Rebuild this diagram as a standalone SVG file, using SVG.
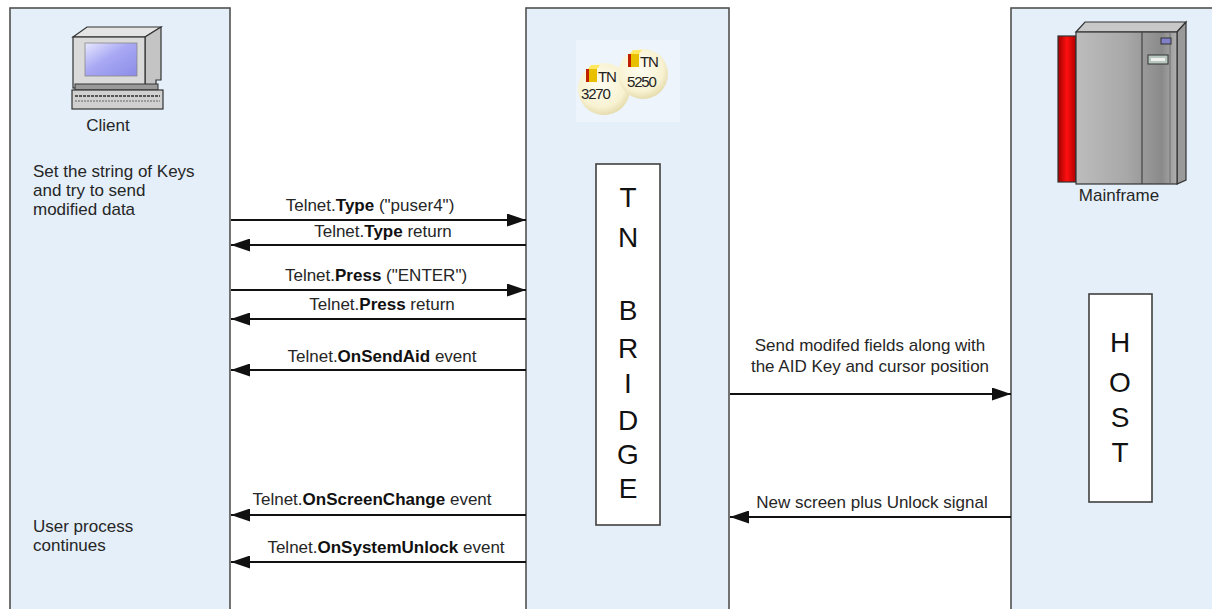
<svg xmlns="http://www.w3.org/2000/svg" width="1212" height="609" viewBox="0 0 1212 609">
  <defs>
    <style>
      .lane { fill: #e4eff9; stroke: #505050; stroke-width: 1.6; }
      .box { fill: #ffffff; stroke: #404040; stroke-width: 1.6; }
      .lbl { font-family: "Liberation Sans", Arial, sans-serif; font-size: 17px; fill: #262626; }
      .mid { text-anchor: middle; }
      .big { font-family: "Liberation Sans", Arial, sans-serif; font-size: 28px; fill: #111; text-anchor: middle; }
      .msg { stroke: #111; stroke-width: 2; fill: none; marker-end: url(#head); }
      .b { font-weight: bold; fill: #111; }
      .tn { font-family: "Liberation Sans", Arial, sans-serif; font-size: 15px; fill: #222; letter-spacing: -1.2px; }
    </style>
    <marker id="head" markerUnits="userSpaceOnUse" markerWidth="19" markerHeight="13" refX="19" refY="6.5" orient="auto">
      <path d="M0,0 L19,6.5 L0,13 z" fill="#111"/>
    </marker>
    <linearGradient id="screen" x1="0" y1="0" x2="1" y2="1">
      <stop offset="0" stop-color="#e8e8ff"/>
      <stop offset="0.45" stop-color="#a8a8f4"/>
      <stop offset="1" stop-color="#8c8ce8"/>
    </linearGradient>
    <linearGradient id="cab" x1="0" y1="0" x2="1" y2="0">
      <stop offset="0" stop-color="#bdbdbd"/>
      <stop offset="0.5" stop-color="#a8a8a8"/>
      <stop offset="0.85" stop-color="#8a8a8a"/>
      <stop offset="1" stop-color="#b0b0b0"/>
    </linearGradient>
    <linearGradient id="redpanel" x1="0" y1="0" x2="1" y2="0">
      <stop offset="0" stop-color="#a00000"/>
      <stop offset="0.5" stop-color="#ff1010"/>
      <stop offset="1" stop-color="#b00000"/>
    </linearGradient>
    <radialGradient id="disc" cx="0.45" cy="0.4" r="0.6">
      <stop offset="0" stop-color="#fffdf0"/>
      <stop offset="0.75" stop-color="#f8f2d2"/>
      <stop offset="1" stop-color="#e6dcae"/>
    </radialGradient>
  </defs>

  <rect width="1212" height="609" fill="#ffffff"/>

  <!-- Client lane -->
  <g id="client">
    <rect class="lane" x="10" y="8" width="220" height="612"/>
    <g id="client-icon">
      <polygon points="73,37 87,27 161,27 145,37" fill="#e4e4e4" stroke="#333" stroke-width="1.2"/>
      <polygon points="145,37 161,27 161,80 156,80 156,88 145,88" fill="#c4c4c4" stroke="#333" stroke-width="1.2"/>
      <rect x="73" y="37" width="72" height="51" fill="#dadada" stroke="#333" stroke-width="1.2"/>
      <rect x="85" y="43" width="52" height="33" fill="url(#screen)" stroke="#888" stroke-width="0.8"/>
      <rect x="75" y="84" width="83" height="6" fill="#9a9a9a" stroke="#333" stroke-width="1"/>
      <rect x="72" y="90" width="91" height="19" fill="#d0d0d0" stroke="#333" stroke-width="1.2"/>
      <line x1="75" y1="96" x2="160" y2="96" stroke="#555" stroke-width="2" stroke-dasharray="3 1"/>
      <line x1="75" y1="101" x2="160" y2="101" stroke="#888" stroke-width="1.5" stroke-dasharray="2 1"/>
    </g>
    <text class="lbl mid" x="108" y="131">Client</text>
    <text class="lbl" x="33" y="177">Set the string of Keys</text>
    <text class="lbl" x="33" y="196">and try to send</text>
    <text class="lbl" x="33" y="215">modified data</text>
    <text class="lbl" x="33" y="532">User process</text>
    <text class="lbl" x="33" y="551">continues</text>
  </g>

  <!-- TN Bridge lane -->
  <g id="tn-bridge">
    <rect class="lane" x="526" y="8" width="203" height="612"/>
    <g id="tn-icon">
      <rect x="576" y="40" width="104" height="82" fill="#edf4fb"/>
      <circle cx="604" cy="89" r="26" fill="url(#disc)"/>
      <circle cx="643" cy="74" r="25" fill="url(#disc)"/>
      <!-- little cubes -->
      <polygon points="588,69 591,65 600,65 597,69" fill="#ffe860"/>
      <rect x="589" y="69" width="8" height="13" fill="#e8c000"/>
      <rect x="586" y="69" width="3" height="13" fill="#c02000"/>
      <text class="tn" x="598" y="82">TN</text>
      <text class="tn" x="581" y="99">3270</text>
      <polygon points="630,54 633,50 642,50 639,54" fill="#ffe860"/>
      <rect x="631" y="54" width="8" height="13" fill="#e8c000"/>
      <rect x="628" y="54" width="3" height="13" fill="#c02000"/>
      <text class="tn" x="640" y="67">TN</text>
      <text class="tn" x="627" y="87">5250</text>
    </g>
    <rect class="box" x="596" y="164" width="64" height="361"/>
    <text class="big" x="628" y="207">T</text>
    <text class="big" x="628" y="247">N</text>
    <text class="big" x="628" y="320">B</text>
    <text class="big" x="628" y="358">R</text>
    <text class="big" x="628" y="393">I</text>
    <text class="big" x="628" y="430">D</text>
    <text class="big" x="628" y="464">G</text>
    <text class="big" x="628" y="498">E</text>
  </g>

  <!-- Mainframe lane -->
  <g id="mainframe">
    <rect class="lane" x="1011" y="8" width="220" height="612"/>
    <g id="mainframe-icon">
      <rect x="1058" y="36" width="18" height="146" fill="url(#redpanel)" stroke="#333" stroke-width="1.2"/>
      <polygon points="1076,32 1085,22 1186,22 1177,32" fill="#c8c8c8" stroke="#333" stroke-width="1.2"/>
      <polygon points="1177,32 1186,22 1186,180 1177,184" fill="#9a9a9a" stroke="#333" stroke-width="1.2"/>
      <rect x="1076" y="32" width="101" height="152" fill="url(#cab)" stroke="#333" stroke-width="1.2"/>
      <line x1="1142" y1="32" x2="1142" y2="184" stroke="#444" stroke-width="1.2"/>
      <line x1="1170" y1="32" x2="1170" y2="184" stroke="#666" stroke-width="0.8"/>
      <rect x="1161" y="38" width="10" height="6" fill="#8080c8" stroke="#333" stroke-width="1"/>
      <rect x="1148" y="55" width="20" height="9" fill="#b8c8c0" stroke="#333" stroke-width="1"/>
      <rect x="1151" y="58" width="14" height="3" fill="#f0f0f0"/>
    </g>
    <text class="lbl mid" x="1119" y="201">Mainframe</text>
    <rect class="box" x="1089" y="294" width="63" height="208"/>
    <text class="big" x="1120" y="352">H</text>
    <text class="big" x="1120" y="392">O</text>
    <text class="big" x="1120" y="427">S</text>
    <text class="big" x="1120" y="462">T</text>
  </g>

  <!-- Messages -->
  <g id="connectors">
    <line class="msg" x1="231" y1="220" x2="526" y2="220"/>
    <line class="msg" x1="526" y1="245" x2="231" y2="245"/>
    <line class="msg" x1="231" y1="290" x2="526" y2="290"/>
    <line class="msg" x1="526" y1="319" x2="231" y2="319"/>
    <line class="msg" x1="526" y1="370" x2="231" y2="370"/>
    <line class="msg" x1="526" y1="515" x2="231" y2="515"/>
    <line class="msg" x1="526" y1="562" x2="231" y2="562"/>
    <line class="msg" x1="730" y1="394" x2="1011" y2="394"/>
    <line class="msg" x1="1011" y1="517" x2="730" y2="517"/>

    <text class="lbl mid" x="370" y="211">Telnet.<tspan class="b">Type</tspan> ("puser4")</text>
    <text class="lbl mid" x="383" y="237">Telnet.<tspan class="b">Type</tspan> return</text>
    <text class="lbl mid" x="376" y="281">Telnet.<tspan class="b">Press</tspan> ("ENTER")</text>
    <text class="lbl mid" x="382" y="310">Telnet.<tspan class="b">Press</tspan> return</text>
    <text class="lbl mid" x="382" y="362">Telnet.<tspan class="b">OnSendAid</tspan> event</text>
    <text class="lbl mid" x="372" y="505">Telnet.<tspan class="b">OnScreenChange</tspan> event</text>
    <text class="lbl mid" x="386" y="553">Telnet.<tspan class="b">OnSystemUnlock</tspan> event</text>
    <text class="lbl mid" x="870" y="351">Send modifed fields along with</text>
    <text class="lbl mid" x="870" y="372">the AID Key and cursor position</text>
    <text class="lbl mid" x="872" y="508">New screen plus Unlock signal</text>
  </g>
</svg>
